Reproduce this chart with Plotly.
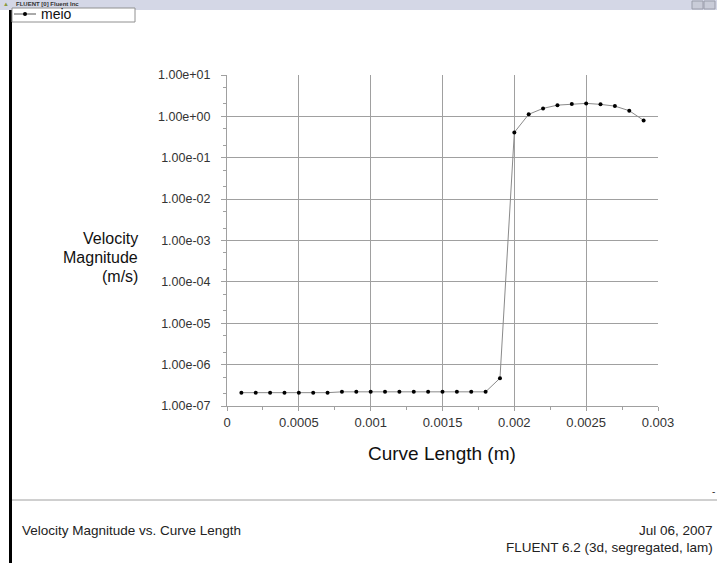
import plotly.graph_objects as go

# ---- data ----
curve_length = [0.0001, 0.0002, 0.0003, 0.0004, 0.0005, 0.0006, 0.0007, 0.0008, 0.0009, 0.0010,
                0.0011, 0.0012, 0.0013, 0.0014, 0.0015, 0.0016, 0.0017, 0.0018, 0.0019, 0.0020,
                0.0021, 0.0022, 0.0023, 0.0024, 0.0025, 0.0026, 0.0027, 0.0028, 0.0029]
velocity = [2.1e-7, 2.1e-7, 2.1e-7, 2.1e-7, 2.1e-7, 2.1e-7, 2.1e-7, 2.2e-7, 2.2e-7, 2.2e-7,
            2.2e-7, 2.2e-7, 2.2e-7, 2.2e-7, 2.2e-7, 2.2e-7, 2.2e-7, 2.2e-7, 4.7e-7, 0.41,
            1.12, 1.56, 1.87, 1.98, 2.06, 1.95, 1.77, 1.37, 0.80]
series_name = "meio"

x_tickvals = [0, 0.0005, 0.001, 0.0015, 0.002, 0.0025, 0.003]
x_ticktext = ["0", "0.0005", "0.001", "0.0015", "0.002", "0.0025", "0.003"]
y_tickvals = [1e-7, 1e-6, 1e-5, 1e-4, 1e-3, 1e-2, 1e-1, 1e0, 1e1]
y_ticktext = ["1.00e-07", "1.00e-06", "1.00e-05", "1.00e-04", "1.00e-03",
              "1.00e-02", "1.00e-01", "1.00e+00", "1.00e+01"]

W, H = 717, 563
L, R, T, B = 227, 658, 75, 406
FONT = "Liberation Sans, Arial, sans-serif"

def px(x):
    return (x - L) / (R - L)

def py(y):
    return (B - y) / (B - T)

fig = go.Figure()
fig.add_trace(go.Scatter(
    x=curve_length, y=velocity, mode="lines+markers", name=series_name,
    line=dict(color="#8a8a8a", width=1),
    marker=dict(color="black", size=4),
    showlegend=False,
))

grid = "#a0a0a0"
fig.update_layout(
    width=W, height=H,
    margin=dict(l=L, r=W - R, t=T, b=H - B),
    paper_bgcolor="white", plot_bgcolor="white",
    font=dict(family=FONT, color="#222"),
    xaxis=dict(
        range=[0, 0.003], tickvals=x_tickvals, ticktext=x_ticktext,
        showgrid=True, gridcolor=grid, gridwidth=1,
        showline=True, linecolor=grid, linewidth=1,
        ticks="outside", ticklen=4, tickcolor=grid,
        minor=dict(dtick=0.00025, ticks="outside", ticklen=3, tickcolor=grid, showgrid=False),
        tickfont=dict(size=13, color="#333"), zeroline=False,
    ),
    yaxis=dict(
        type="log", range=[-7, 1], tickvals=y_tickvals, ticktext=y_ticktext,
        showgrid=True, gridcolor=grid, gridwidth=1,
        showline=True, linecolor=grid, linewidth=1,
        ticks="outside", ticklen=5, tickcolor=grid,
        minor=dict(ticks="outside", ticklen=3, tickcolor=grid, showgrid=False),
        tickfont=dict(size=12.5, color="#333"), zeroline=False,
        ticklabelstandoff=8,
    ),
)

shapes = []
ann = []
# window chrome
shapes.append(dict(type="rect", xref="paper", yref="paper", x0=px(0), x1=px(W), y0=py(10), y1=py(0),
                   fillcolor="#d4d7e6", line=dict(width=0), layer="above"))
shapes.append(dict(type="rect", xref="paper", yref="paper", x0=px(9), x1=px(12), y0=py(H), y1=py(10),
                   fillcolor="black", line=dict(width=0), layer="above"))
shapes.append(dict(type="rect", xref="paper", yref="paper", x0=px(692), x1=px(703), y0=py(9), y1=py(1),
                   fillcolor="#c9ccd8", line=dict(color="#9a9daa", width=1), layer="above"))
shapes.append(dict(type="rect", xref="paper", yref="paper", x0=px(704), x1=px(715), y0=py(9), y1=py(1),
                   fillcolor="#c9ccd8", line=dict(color="#9a9daa", width=1), layer="above"))
ann.append(dict(text="<b>FLUENT [0] Fluent Inc</b>", xref="paper", yref="paper", x=px(14), y=py(4.5),
                xanchor="left", yanchor="middle", showarrow=False, font=dict(size=6, color="#333")))
ann.append(dict(text="▲", xref="paper", yref="paper", x=px(6), y=py(4.5),
                xanchor="center", yanchor="middle", showarrow=False, font=dict(size=6, color="#8a9a40")))
# legend box
shapes.append(dict(type="rect", xref="paper", yref="paper", x0=px(12), x1=px(135), y0=py(22), y1=py(8),
                   fillcolor="white", line=dict(color="#909090", width=1), layer="above"))
shapes.append(dict(type="line", xref="paper", yref="paper", x0=px(14), x1=px(36), y0=py(14), y1=py(14),
                   line=dict(color="#555", width=1), layer="above"))
shapes.append(dict(type="circle", xref="paper", yref="paper", x0=px(23), x1=px(27), y0=py(16), y1=py(12),
                   fillcolor="black", line=dict(color="black", width=0), layer="above"))
ann.append(dict(text=series_name, xref="paper", yref="paper", x=px(39), y=py(14),
                xanchor="left", yanchor="middle", showarrow=False, font=dict(size=14, color="#111")))
# footer
shapes.append(dict(type="line", xref="paper", yref="paper", x0=px(12), x1=px(W), y0=py(500), y1=py(500),
                   line=dict(color="#a0a0a0", width=1)))
ann.append(dict(text="-", xref="paper", yref="paper", x=px(713), y=py(491),
                xanchor="center", yanchor="middle", showarrow=False, font=dict(size=10, color="#333")))
ann.append(dict(text="Velocity Magnitude vs. Curve Length", xref="paper", yref="paper", x=px(20), y=py(530),
                xanchor="left", yanchor="middle", showarrow=False, font=dict(size=13.5, color="#222")))
ann.append(dict(text="Jul 06, 2007", xref="paper", yref="paper", x=px(715), y=py(530),
                xanchor="right", yanchor="middle", showarrow=False, font=dict(size=13.5, color="#222")))
ann.append(dict(text="FLUENT 6.2 (3d, segregated, lam)", xref="paper", yref="paper", x=px(715), y=py(547),
                xanchor="right", yanchor="middle", showarrow=False, font=dict(size=13.5, color="#222")))
# axis titles
for txt, yy in [("Velocity", 238), ("Magnitude", 257), ("(m/s)", 276)]:
    ann.append(dict(text=txt, xref="paper", yref="paper", x=px(140), y=py(yy),
                    xanchor="right", yanchor="middle", showarrow=False, font=dict(size=16, color="#111")))
ann.append(dict(text="Curve Length (m)", xref="paper", yref="paper", x=px(442), y=py(453),
                xanchor="center", yanchor="middle", showarrow=False, font=dict(size=19, color="#111")))

fig.update_layout(shapes=shapes, annotations=ann)
fig.write_html("out.html")
